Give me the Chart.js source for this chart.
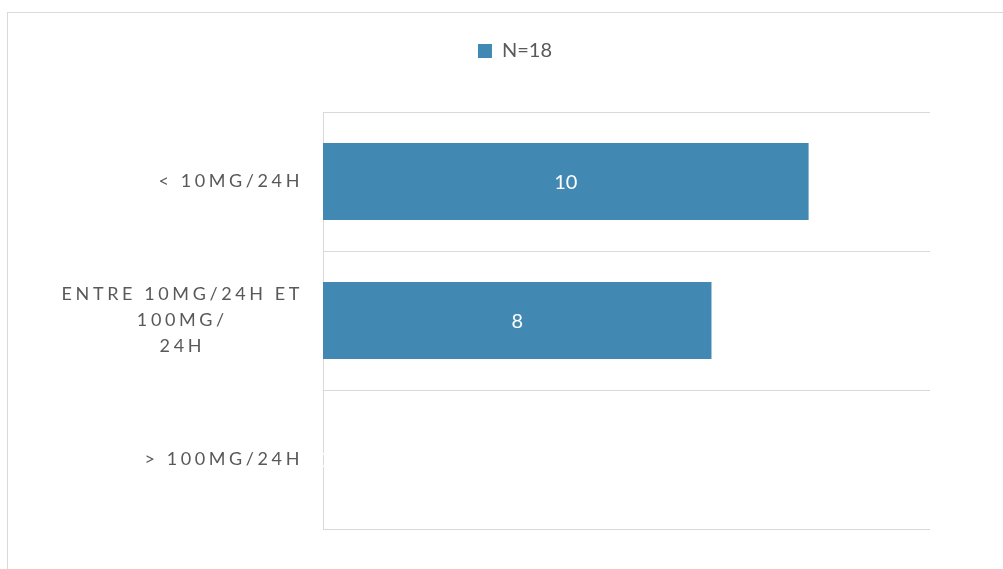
<!DOCTYPE html>
<html>
<head>
<meta charset="utf-8">
<script src="https://cdn.jsdelivr.net/npm/chart.js@4.4.0/dist/chart.umd.min.js"></script>
<style>
  html, body { margin: 0; padding: 0; background: #fff; overflow: hidden; }
  #frame { position: absolute; left: 7px; top: 12px; width: 1100px; height: 700px; border: 1px solid #d9d9d9; }
  #wrap { position: absolute; left: 0; top: 0; width: 1003px; height: 569px; }
</style>
</head>
<body>
<div id="frame"></div>
<div id="wrap"><canvas id="myChart"></canvas></div>
<script>
// categories (top to bottom) and values
var categories = ['< 10MG/24H', ['ENTRE 10MG/24H ET', '100MG/', '24H'], '> 100MG/24H'];
var seriesName = 'N=18';
var values = [10, 8, 0];
var xMax = 12.5;

var grey = '#595959';
var barColor = '#4189b3';
var spacing = '3.6px';

// letter-spaced, right-aligned blocks with centred lines for the y labels
var yLabelPlugin = {
    id: 'yLabels',
    beforeDraw: function(chart) {
        var y = chart.scales.y;
        var ctx = chart.ctx;
        if (!y._patched) {
            var orig = y.drawLabels;
            y._computeLabelArea = function() { return undefined; }; // no clipping to the axis box
            y.drawLabels = function(area) {
                var prev = this.ctx.letterSpacing;
                this.ctx.letterSpacing = spacing;
                orig.call(this, area);
                this.ctx.letterSpacing = prev;
            };
            y._patched = true;
        }
        var items = y.getLabelItems(chart.chartArea);
        var rightEdge = y.right - y.options.ticks.padding;
        ctx.save();
        ctx.letterSpacing = spacing;
        items.forEach(function(item) {
            ctx.font = item.font.string;
            var lines = Array.isArray(item.label) ? item.label : [item.label];
            var w = Math.max.apply(null, lines.map(function(l) { return ctx.measureText(l).width; }));
            item.options.textAlign = 'center';
            item.options.translation[0] = rightEdge - w / 2;
        });
        ctx.restore();
    }
};

// value labels in the middle of each bar
var valueLabels = {
    id: 'valueLabels',
    afterDatasetsDraw: function(chart) {
        var ctx = chart.ctx;
        var meta = chart.getDatasetMeta(0);
        ctx.save();
        ctx.font = '20px Lato';
        ctx.fillStyle = '#ffffff';
        ctx.textAlign = 'center';
        ctx.textBaseline = 'middle';
        meta.data.forEach(function(bar, i) {
            ctx.fillText(String(values[i]), (bar.x + bar.base) / 2, bar.y + 1);
        });
        ctx.restore();
    }
};

var ctx = document.getElementById('myChart').getContext('2d');

var myChart = new Chart(ctx, {
    type: 'bar',
    data: {
        labels: categories,
        datasets: [{
            label: seriesName,
            data: values,
            backgroundColor: barColor,
            borderWidth: 0,
            barPercentage: 0.555,
            categoryPercentage: 1
        }]
    },
    options: {
        indexAxis: 'y',
        responsive: true,
        maintainAspectRatio: false,
        animation: false,
        layout: { padding: { top: 31, left: 100, right: 73, bottom: 40 } },
        scales: {
            x: {
                position: 'top',
                min: 0,
                max: xMax,
                ticks: { display: false },
                grid: { display: false },
                border: { display: false },
                afterFit: function(s) { s.height = 41; }
            },
            y: {
                grid: { color: '#d9d9d9', drawTicks: false, lineWidth: 1 },
                border: { color: '#d9d9d9' },
                ticks: {
                    color: grey,
                    padding: 20,
                    font: { family: 'Lato', size: 18, lineHeight: 1.45 }
                },
                afterFit: function(s) { s.width = 223; }
            }
        },
        plugins: {
            legend: {
                position: 'top',
                labels: {
                    color: grey,
                    boxWidth: 14,
                    boxHeight: 14,
                    padding: 10,
                    font: { family: 'Lato', size: 20 }
                }
            },
            tooltip: { enabled: false }
        }
    },
    plugins: [yLabelPlugin, valueLabels]
});
</script>
</body>
</html>
